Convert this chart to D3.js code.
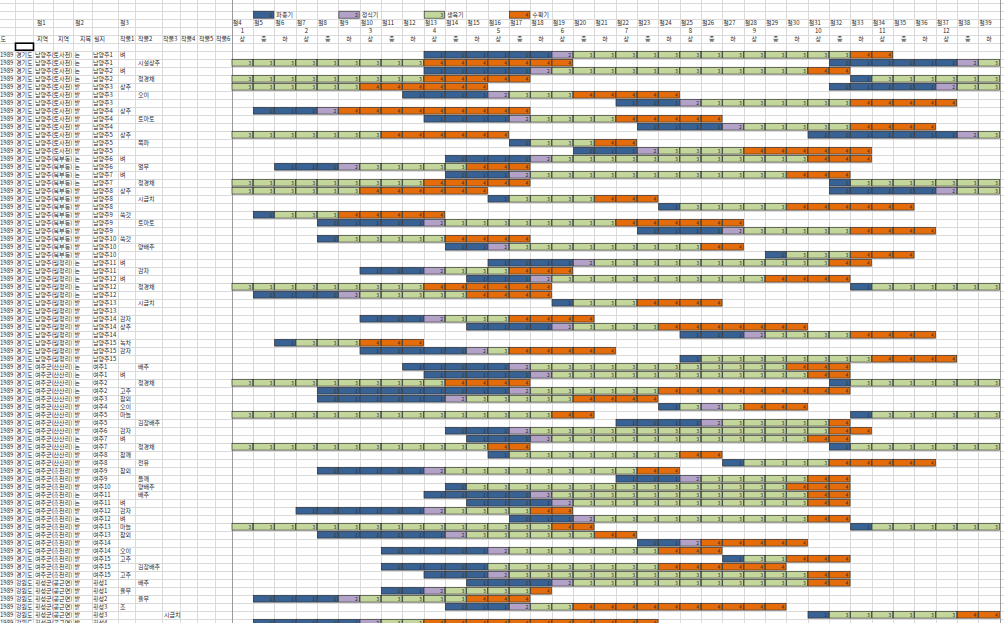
<!DOCTYPE html>
<html><head><meta charset="utf-8">
<script src="https://cdn.jsdelivr.net/npm/d3@7"></script>
<style>
html,body{margin:0;padding:0;background:#fff;overflow:hidden}
svg{display:block}
text{font-family:"Noto Sans CJK KR","Noto Sans",sans-serif;fill:#2a2a2a}
</style></head><body>
<svg id="c" width="1004" height="623"></svg>
<script>
// ---- tick labels ----
const periods = ["절4","절5","절6","절7","절8","절9","절10","절11","절12","절13","절14","절15",
  "절16","절17","절18","절19","절20","절21","절22","절23","절24","절25","절26","절27",
  "절28","절29","절30","절31","절32","절33","절34","절35","절36","절37","절38","절39"];
const months = ["1","2","3","4","5","6","7","8","9","10","11","12"];
const thirds = ["상","중","하"];
const phaseNames = ["파종기","정식기","생육기","수확기"];
const phaseCodes = [1,2,3,4];
const leftHeaders = ["도","지역","지역","지목","필지","작물1","작물2","작물3","작물4","작물5","작물6"];
const topLeftHeaders = ["절1","절2","절3"];

// ---- row labels ----
const provinces = ["경기도","경기도","경기도","경기도","경기도","경기도","경기도","경기도","경기도","경기도","경기도","경기도","경기도",
 "경기도","경기도","경기도","경기도","경기도","경기도","경기도","경기도","경기도","경기도","경기도","경기도","경기도",
 "경기도","경기도","경기도","경기도","경기도","경기도","경기도","경기도","경기도","경기도","경기도","경기도","경기도",
 "경기도","경기도","경기도","경기도","경기도","경기도","경기도","경기도","경기도","경기도","경기도","경기도","경기도",
 "경기도","경기도","경기도","경기도","경기도","경기도","경기도","경기도","경기도","경기도","경기도","경기도","경기도",
 "경기도","강원도","강원도","강원도","강원도","강원도","강원도"];
const districts = ["남양주(토사천)","남양주(토사천)","남양주(토사천)","남양주(토사천)","남양주(토사천)","남양주(토사천)","남양주(토사천)","남양주(토사천)","남양주(토사천)","남양주(토사천)","남양주(토사천)","남양주(토사천)","남양주(토사천)",
 "남양주(북부동)","남양주(북부동)","남양주(북부동)","남양주(북부동)","남양주(북부동)","남양주(북부동)","남양주(북부동)","남양주(북부동)","남양주(북부동)","남양주(북부동)","남양주(북부동)","남양주(북부동)","남양주(북부동)",
 "남양주(월정리)","남양주(월정리)","남양주(월정리)","남양주(월정리)","남양주(월정리)","남양주(월정리)","남양주(월정리)","남양주(월정리)","남양주(월정리)","남양주(월정리)","남양주(월정리)","남양주(월정리)","남양주(월정리)",
 "여주군(산산리)","여주군(산산리)","여주군(산산리)","여주군(산산리)","여주군(산산리)","여주군(산산리)","여주군(산산리)","여주군(산산리)","여주군(산산리)","여주군(산산리)","여주군(산산리)","여주군(산산리)","여주군(산산리)",
 "여주군(흥천리)","여주군(흥천리)","여주군(흥천리)","여주군(흥천리)","여주군(흥천리)","여주군(흥천리)","여주군(흥천리)","여주군(흥천리)","여주군(흥천리)","여주군(흥천리)","여주군(흥천리)","여주군(흥천리)","여주군(흥천리)",
 "여주군(흥천리)","횡성군(공근면)","횡성군(공근면)","횡성군(공근면)","횡성군(공근면)","횡성군(공근면)","횡성군(공근면)"];
const landUse = ["논","논","논","논","밭","밭","밭","밭","밭","밭","밭","밭","밭",
 "논","논","논","논","밭","밭","밭","밭","밭","밭","밭","밭","밭",
 "논","논","논","논","논","밭","밭","밭","밭","밭","밭","밭","밭",
 "논","논","논","논","밭","밭","밭","밭","밭","논","논","밭","밭",
 "밭","밭","밭","논","논","밭","논","밭","밭","밭","밭","밭","밭",
 "밭","밭","밭","밭","밭","밭","밭"];
const plots = ["남양주1","남양주1","남양주2","남양주2","남양주3","남양주3","남양주3","남양주4","남양주4","남양주4","남양주5","남양주5","남양주5",
 "남양주6","남양주6","남양주7","남양주7","남양주8","남양주8","남양주8","남양주9","남양주9","남양주9","남양주10","남양주10","남양주10",
 "남양주11","남양주11","남양주12","남양주12","남양주12","남양주13","남양주13","남양주14","남양주14","남양주14","남양주15","남양주15","남양주15",
 "여주1","여주1","여주2","여주2","여주3","여주4","여주5","여주5","여주6","여주7","여주7","여주8","여주8",
 "여주9","여주9","여주10","여주11","여주11","여주12","여주12","여주13","여주13","여주14","여주14","여주15","여주15",
 "여주15","횡성1","횡성1","횡성2","횡성3","횡성3","횡성4"];
const crop1 = ["벼","","벼","","상추","","","상추","","","상추","","",
 "벼","","벼","","상추","","","쑥갓","","","쑥갓","","",
 "벼","","벼","","","","","감자","상추","","녹차","감자","",
 "","벼","","고추","참외","오이","마늘","","감자","벼","","참깨","",
 "참외","","","","벼","감자","벼","마늘","참외","","오이","고추","",
 "고추","","율무","","조","",""];
const crop2 = ["","시설상추","","청경채","","오이","","","토마토","","","쪽파","",
 "","열무","","청경채","","시금치","","","토마토","","","양배추","",
 "","감자","","청경채","","시금치","","","","","","","",
 "배추","","청경채","","","","","김장배추","","","청경채","","전유",
 "","들깨","양배추","배추","","","","","","","","","김장배추",
 "","배추","","율무","","",""];
const crop3 = ["","","","","","","","","","","","","",
 "","","","","","","","","","","","","",
 "","","","","","","","","","","","","",
 "","","","","","","","","","","","","",
 "","","","","","","","","","","","","",
 "","","","","","시금치",""];

// ---- schedule: per row, runs [first period index, last period index, phase code] ----
const schedule = [
 [[9,14,1],[15,15,2],[16,28,3],[29,30,4]],
 [[0,8,3],[9,15,4],[28,33,1],[34,34,2],[35,35,3]],
 [[9,13,1],[14,14,2],[15,26,3],[27,28,4]],
 [[0,8,3],[9,13,4],[29,29,1],[30,35,3]],
 [[0,5,3],[6,11,4],[28,32,1],[33,33,2],[34,35,3]],
 [[8,11,1],[12,12,2],[13,15,3],[16,20,4]],
 [[18,20,1],[21,21,2],[22,28,3],[29,33,4]],
 [[1,3,1],[4,4,2],[5,13,4]],
 [[9,12,1],[13,13,2],[14,17,3],[18,22,4]],
 [[19,22,1],[23,23,2],[24,28,3],[29,32,4]],
 [[0,6,3],[7,12,4],[27,33,1],[34,34,2],[35,35,3]],
 [[13,13,1],[14,16,3],[17,18,4]],
 [[16,18,1],[19,19,2],[20,23,3],[24,29,4]],
 [[10,13,1],[14,14,2],[15,26,3],[27,29,4]],
 [[2,4,1],[5,5,2],[6,10,3],[11,13,4]],
 [[10,12,1],[13,13,2],[14,25,3],[26,28,4]],
 [[0,8,3],[9,13,4],[28,28,1],[29,35,3]],
 [[0,5,3],[6,11,4],[28,32,1],[33,33,2],[34,35,3]],
 [[12,12,1],[13,16,3],[17,19,4]],
 [[20,20,1],[21,25,3],[26,31,4]],
 [[1,1,1],[2,4,3],[5,9,4]],
 [[4,8,1],[9,9,2],[10,17,3],[18,23,4]],
 [[19,22,1],[23,23,2],[24,28,3],[29,32,4]],
 [[4,4,1],[5,9,3],[10,13,4]],
 [[10,11,1],[12,12,2],[13,21,3],[22,23,4]],
 [[25,25,1],[26,28,3],[29,31,4]],
 [[12,15,1],[16,16,2],[17,27,3],[28,29,4]],
 [[6,8,1],[9,9,2],[10,12,3],[13,15,4]],
 [[11,13,1],[14,14,2],[15,24,3],[25,28,4]],
 [[0,8,3],[9,14,4],[29,29,1],[30,35,3]],
 [[1,4,1],[5,5,2],[6,10,3],[11,14,4]],
 [[15,15,1],[16,18,3],[19,22,4]],
 [],
 [[6,8,1],[9,9,2],[10,12,3],[13,16,4]],
 [[11,14,1],[15,15,2],[16,19,3],[20,26,4]],
 [[21,23,1],[24,24,2],[25,28,3],[29,32,4]],
 [[2,2,1],[3,5,3],[6,8,4]],
 [[6,10,1],[11,11,2],[12,12,3],[13,17,4]],
 [[21,21,1],[22,29,3],[30,33,4]],
 [[8,12,1],[13,13,2],[14,25,3],[26,28,4]],
 [[9,13,1],[14,14,2],[15,26,3],[27,28,4]],
 [[0,9,3],[10,13,4],[28,28,1],[29,35,3]],
 [[4,12,1],[13,13,2],[14,19,3],[20,28,4]],
 [[4,9,1],[10,10,2],[11,15,3],[16,19,4]],
 [[20,20,1],[21,21,3],[22,22,2],[23,23,3],[24,26,4]],
 [[0,14,3],[15,16,4],[29,29,1],[30,35,3]],
 [[18,21,1],[22,22,2],[23,27,3],[28,28,4]],
 [[10,12,1],[13,13,2],[14,27,3],[28,29,4]],
 [[11,13,1],[14,14,2],[15,26,3],[27,28,4]],
 [[0,11,3],[12,13,4],[28,28,1],[29,35,3]],
 [[12,12,1],[13,20,3],[21,22,4]],
 [[23,23,1],[24,27,3],[28,32,4]],
 [[4,8,1],[9,9,2],[10,18,3],[19,20,4]],
 [[18,20,1],[21,21,2],[22,26,3],[27,28,4]],
 [[10,10,1],[11,25,3],[26,28,4]],
 [[9,13,1],[14,14,2],[15,26,3],[27,28,4]],
 [[11,14,1],[15,15,2],[16,26,3],[27,28,4]],
 [[3,8,1],[9,9,2],[10,13,3],[14,15,4]],
 [[13,15,1],[16,16,2],[17,26,3],[27,28,4]],
 [[0,14,3],[15,16,4],[29,29,1],[30,35,3]],
 [[4,9,1],[10,10,2],[11,16,3],[17,18,4]],
 [[19,20,1],[21,21,2],[22,26,4]],
 [[7,11,1],[12,12,2],[13,19,3],[20,22,4]],
 [[23,23,1],[24,25,3],[26,28,4]],
 [[7,11,1],[12,19,3],[20,25,4]],
 [[9,11,1],[12,12,2],[13,26,3],[27,28,4]],
 [[11,14,1],[15,15,2],[16,26,3],[27,28,4]],
 [[7,8,1],[9,9,2],[10,13,3],[14,14,4]],
 [[1,4,1],[5,5,2],[6,10,3],[11,13,4]],
 [[10,12,1],[13,13,2],[14,15,3],[16,25,4]],
 [[27,27,1],[28,33,3],[34,35,4]],
 [[1,5,1],[6,6,2],[7,8,3],[9,19,4]]
];

// ---- styling ----
const W = 1004, H = 623;
const phaseColor = d3.scaleOrdinal().domain(phaseCodes).range(["#386194","#b3a2c7","#c3d69b","#e46c0a"]);
const gridLeft = 231.7, colW = 21.333, rowH = 8;
const svg = d3.select("#c");

const rowIds = d3.range(-6, schedule.length + 1);
const y = d3.scaleBand().domain(rowIds).range([2.7, 2.7 + rowIds.length * rowH]);
const x = d3.scaleBand().domain(periods).range([gridLeft, gridLeft + periods.length * colW]);
const yc = r => y(r) + rowH / 2;

const leftCols = [15, 33.3, 53.3, 73.3, 91.7, 118.3, 135, 161.7, 180, 196.7, 215];

// gridlines
const g = svg.append("g").attr("shape-rendering", "crispEdges");
g.selectAll("line.h").data(rowIds).join("line")
  .attr("x1", 0).attr("x2", W).attr("y1", d => Math.round(y(d)) + 0.5).attr("y2", d => Math.round(y(d)) + 0.5)
  .attr("stroke", "#dadada").attr("stroke-width", 1);
g.selectAll("line.vl").data(leftCols).join("line")
  .attr("x1", d => Math.round(d) + 0.5).attr("x2", d => Math.round(d) + 0.5).attr("y1", 0).attr("y2", H)
  .attr("stroke", "#dadada");
g.selectAll("line.vg").data(periods.slice(1)).join("line")
  .attr("x1", d => Math.round(x(d)) + 0.5).attr("x2", d => Math.round(x(d)) + 0.5).attr("y1", 0).attr("y2", H)
  .attr("stroke", "#dadada");
g.append("line").attr("x1", Math.round(gridLeft) + 0.5).attr("x2", Math.round(gridLeft) + 0.5).attr("y1", 0).attr("y2", H).attr("stroke", "#9a9a9a");
g.append("line").attr("x1", 1000.5).attr("x2", 1000.5).attr("y1", 0).attr("y2", H).attr("stroke", "#9a9a9a");

// header texts
const hdr = svg.append("g").attr("font-size", 6);
const topLeftX = [36.7, 75, 120];
hdr.selectAll("text.tl").data(topLeftHeaders).join("text")
  .attr("x", (d, i) => topLeftX[i]).attr("y", yc(-4) + 2).text(d => d);
hdr.selectAll("text.p").data(periods).join("text")
  .attr("x", d => x(d) + 1).attr("y", yc(-4) + 2).text(d => d);
hdr.selectAll("text.m").data(months).join("text")
  .attr("x", (d, i) => x(periods[i * 3]) + colW / 2).attr("y", yc(-3) + 2)
  .attr("text-anchor", "middle").text(d => d);
hdr.selectAll("text.t").data(periods).join("text")
  .attr("x", d => x(d) + colW / 2).attr("y", yc(-2) + 2)
  .attr("text-anchor", "middle").text((d, i) => thirds[i % 3]);
const leftHdrX = [0.5, 37, 58, 80, 94, 120, 138, 163, 181, 199, 216];
hdr.selectAll("text.lh").data(leftHeaders).join("text")
  .attr("x", (d, i) => leftHdrX[i]).attr("y", yc(-2) + 2).text(d => d);

// selected cell
svg.append("rect").attr("x", 15.5).attr("y", y(-1) + 0.5).attr("width", 18).attr("height", rowH - 1)
  .attr("fill", "none").attr("stroke", "#000").attr("stroke-width", 1.6);

// legend
const leg = svg.append("g").selectAll("g").data(phaseCodes).join("g")
  .attr("transform", (d, i) => `translate(${x(periods[1 + i * 4])},${y(-5)})`);
leg.append("rect").attr("x", 0.5).attr("y", 0.5).attr("width", colW - 1).attr("height", rowH - 1)
  .attr("fill", d => phaseColor(d)).attr("stroke", "#2e2e2e").attr("stroke-width", 0.7);
leg.append("text").attr("x", colW - 2).attr("y", rowH / 2 + 2).attr("text-anchor", "end")
  .attr("font-size", 5).text(d => d);
leg.append("text").attr("x", colW + 2).attr("y", rowH / 2 + 2).attr("font-size", 6)
  .text((d, i) => phaseNames[i]);

// row labels
const rows = d3.range(schedule.length);
const lab = svg.append("g").attr("font-size", 6);
lab.selectAll("text.yr").data(rows).join("text").attr("x", 0).attr("y", r => yc(r) + 2).text("1989");
lab.selectAll("text.pv").data(rows).join("text").attr("x", 16).attr("y", r => yc(r) + 2).text(r => provinces[r]);
lab.selectAll("text.ds").data(rows).join("text").attr("x", 35).attr("y", r => yc(r) + 2).text(r => districts[r]);
lab.selectAll("text.lu").data(rows).join("text").attr("x", 74.5).attr("y", r => yc(r) + 2).text(r => landUse[r]);
lab.selectAll("text.pl").data(rows).join("text").attr("x", 93).attr("y", r => yc(r) + 2).text(r => plots[r]);
lab.selectAll("text.c1").data(rows).join("text").attr("x", 120).attr("y", r => yc(r) + 2).text(r => crop1[r]);
lab.selectAll("text.c2").data(rows).join("text").attr("x", 138).attr("y", r => yc(r) + 2).text(r => crop2[r]);
lab.selectAll("text.c3").data(rows).join("text").attr("x", 164).attr("y", r => yc(r) + 2).text(r => crop3[r]);

// cells
const cells = [];
schedule.forEach((runs, r) => runs.forEach(([a, b, p]) => {
  for (let c = a; c <= b; c++) cells.push({ r, period: periods[c], p });
}));
const cg = svg.append("g").selectAll("g").data(cells).join("g")
  .attr("transform", d => `translate(${x(d.period)},${y(d.r)})`);
cg.append("rect").attr("x", 0.3).attr("y", 0.6).attr("width", colW - 0.6).attr("height", rowH - 1.2)
  .attr("fill", d => phaseColor(d.p)).attr("stroke", "#2e2e2e").attr("stroke-width", 0.7);
cg.append("text").attr("x", colW - 2).attr("y", rowH / 2 + 1.8).attr("text-anchor", "end")
  .attr("font-size", 5).text(d => d.p);
</script></body></html>
